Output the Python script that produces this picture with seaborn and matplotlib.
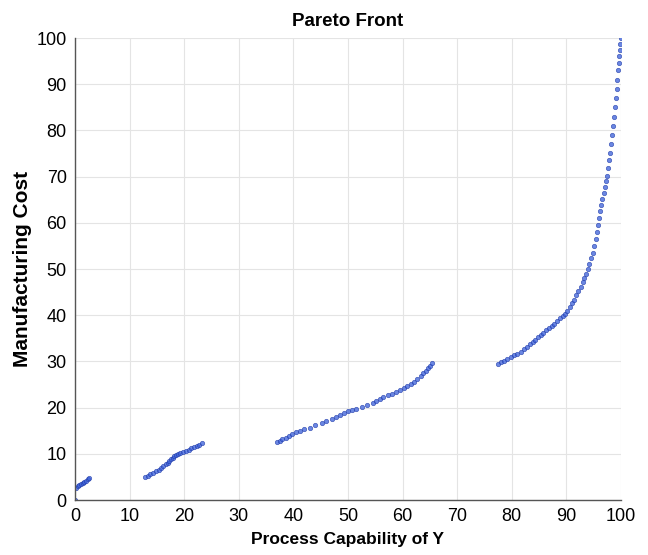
import matplotlib
matplotlib.use("Agg")
import matplotlib.pyplot as plt
import seaborn as sns
import pandas as pd

# Pareto front points, one list pair per segment
seg_a_x = [0.0, 0.2, 0.5, 0.8, 1.1, 1.4, 1.7, 2.0, 2.3, 2.6]
seg_a_y = [0.0, 2.7, 3.0, 3.2, 3.5, 3.7, 3.9, 4.2, 4.5, 4.8]

seg_b_x = [12.8, 13.3, 13.8, 14.3, 14.8, 15.3, 15.8, 16.2, 16.6, 17.0, 17.3, 17.6, 17.9,
           18.2, 18.5, 18.9, 19.3, 19.8, 20.3, 20.8, 21.3, 21.8, 22.3, 22.8, 23.3]
seg_b_y = [5.0, 5.3, 5.6, 5.9, 6.2, 6.5, 6.9, 7.3, 7.7, 8.1, 8.5, 8.9, 9.2,
           9.5, 9.7, 9.9, 10.1, 10.4, 10.6, 10.9, 11.2, 11.4, 11.7, 12.0, 12.3]

seg_c_x = [37.0, 37.5, 38.0, 38.6, 39.2, 39.8, 40.5, 41.2, 42.0, 43.0, 44.0, 45.2, 46.0,
           47.0, 47.8, 48.5, 49.3, 50.0, 50.8, 51.5, 52.5, 53.5, 54.5, 55.2, 55.8, 56.5,
           57.3, 58.0, 58.8, 59.5, 60.2, 60.9, 61.5, 62.1, 62.7, 63.3, 63.8, 64.3, 64.7,
           65.1, 65.4]
seg_c_y = [12.5, 12.8, 13.2, 13.5, 13.9, 14.3, 14.7, 15.0, 15.3, 15.7, 16.2, 16.7, 17.1,
           17.6, 18.0, 18.4, 18.8, 19.2, 19.5, 19.8, 20.2, 20.6, 21.0, 21.4, 21.8, 22.3,
           22.7, 23.0, 23.4, 23.8, 24.2, 24.6, 25.1, 25.6, 26.2, 26.8, 27.4, 27.9, 28.5,
           29.0, 29.6]

seg_d_x = [77.5, 78.0, 78.6, 79.2, 79.8, 80.4, 81.0, 81.6, 82.2, 82.8, 83.3, 83.8, 84.3,
           84.8, 85.3, 85.8, 86.3, 86.8, 87.3, 87.8, 88.3, 88.8, 89.3, 89.8, 90.2, 90.6,
           91.0, 91.4, 91.8, 92.2, 92.6, 93.0, 93.3, 93.6, 93.9, 94.2, 94.5, 94.8, 95.1,
           95.4, 95.6, 95.8, 96.0, 96.2, 96.4, 96.6, 96.8, 97.0, 97.2, 97.4, 97.6, 97.8,
           98.0, 98.2, 98.4, 98.6, 98.75, 98.9, 99.05, 99.2, 99.35, 99.5, 99.6, 99.7,
           99.8, 99.9, 100.0]
seg_d_y = [29.5, 29.8, 30.1, 30.5, 30.9, 31.3, 31.7, 32.1, 32.7, 33.2, 33.7, 34.2, 34.7,
           35.2, 35.7, 36.2, 36.7, 37.2, 37.7, 38.2, 38.8, 39.3, 39.8, 40.3, 41.0, 41.8,
           42.6, 43.4, 44.3, 45.2, 46.2, 47.2, 48.1, 49.0, 50.0, 51.1, 52.3, 53.5, 55.0,
           56.6, 58.0, 59.5, 61.0, 62.5, 63.8, 65.2, 66.5, 67.8, 69.0, 70.2, 71.8, 73.5,
           75.2, 77.0, 79.0, 81.0, 83.0, 85.0, 87.0, 89.0, 91.0, 93.0, 94.5, 96.0,
           97.5, 98.8, 100.0]

df = pd.DataFrame({
    "capability": seg_a_x + seg_b_x + seg_c_x + seg_d_x,
    "cost": seg_a_y + seg_b_y + seg_c_y + seg_d_y,
})

sns.set_style("white")
plt.rcParams["font.family"] = ["Liberation Sans", "DejaVu Sans"]
plt.rcParams["text.color"] = "black"

fig = plt.figure(figsize=(6.48, 5.55), dpi=100)
ax = fig.add_axes([0.1157, 0.099, 0.8426, 0.8325])

sns.scatterplot(data=df, x="capability", y="cost", ax=ax, s=10,
                color="#3a5fd9", alpha=0.75, edgecolor="#1f3aa8", linewidth=0.5)

ax.set_xlim(0, 100)
ax.set_ylim(0, 100)
ax.set_xticks(range(0, 101, 10))
ax.set_yticks(range(0, 101, 10))
ax.grid(True, color="#e4e4e4", linewidth=0.8)
ax.set_axisbelow(True)
for side in ["top", "right"]:
    ax.spines[side].set_visible(False)
for side in ["left", "bottom"]:
    ax.spines[side].set_color("#555555")
    ax.spines[side].set_linewidth(1.0)
ax.tick_params(axis="both", length=0, labelsize=13, pad=6, colors="black")

ax.set_title("Pareto Front", fontsize=13.5, fontweight="bold", pad=9, color="black")
ax.set_xlabel("Process Capability of Y", fontsize=12.5, fontweight="bold",
              labelpad=5, color="black")
ax.set_ylabel("Manufacturing Cost", fontsize=15, fontweight="bold",
              labelpad=3, color="black")

fig.savefig("out.png", dpi=100)
plt.close(fig)
